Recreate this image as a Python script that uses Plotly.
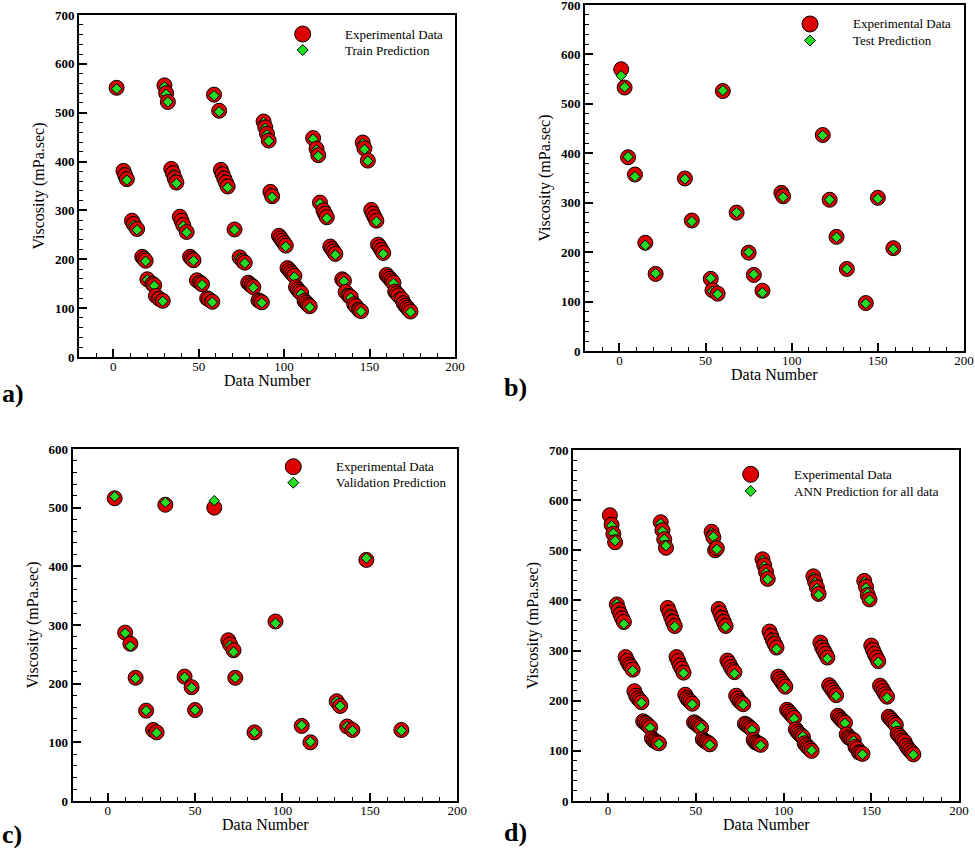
import plotly.graph_objects as go

# ---------------- data ----------------
train_x = [2, 6, 7, 8, 11, 12, 14, 17, 18, 19, 20, 23, 24, 25, 27, 29,
           30, 31, 32, 34, 35, 36, 37, 39, 40, 41, 43, 45, 46, 47, 49, 51, 52, 55, 56, 58,
           59, 62, 63, 64, 65, 66, 67, 71, 74, 76, 77, 79, 80, 81, 82, 85, 86, 87,
           88, 89, 90, 91, 92, 93, 97, 98, 99, 100, 101, 102, 103, 104, 105, 106, 107, 108, 109, 110,
           112, 113, 114, 115,
           117, 119, 120, 121, 123, 124, 125, 127, 128, 129, 130, 134, 135, 136, 138, 139, 141, 142, 144, 145,
           146, 147, 149, 151, 152, 153, 154, 155, 156, 157, 158, 160, 161, 162, 163, 164, 165, 166, 167,
           169, 170, 171, 172, 173, 174]
train_exp = [551, 381, 372, 364, 279, 272, 262, 205, 201, 197, 159, 150, 147, 125, 119, 115,
             556, 540, 522, 385, 376, 366, 357, 287, 279, 270, 256, 205, 201, 198, 157, 152, 149, 120, 118, 113,
             537, 504, 383, 374, 365, 357, 349, 261, 204, 196, 193, 152, 149, 146, 143, 116, 114, 112,
             482, 470, 457, 443, 338, 329, 248, 243, 238, 233, 228, 182, 178, 174, 170, 166, 143, 138, 134, 131,
             115, 111, 107, 104,
             448, 426, 413, 316, 300, 293, 286, 226, 221, 216, 211, 159, 156, 133, 125, 123, 108, 104, 96, 94,
             439, 427, 402, 301, 293, 286, 279, 230, 225, 219, 213, 168, 164, 160, 156, 152, 134, 130, 126,
             118, 110, 105, 101, 97, 93]
train_pred = [549, 379, 370, 362, 277, 270, 260, 203, 200, 196, 158, 150, 146, 123, 118, 114,
              553, 538, 522, 382, 374, 365, 355, 284, 276, 268, 255, 203, 200, 197, 156, 151, 148, 119, 117, 112,
              535, 502, 381, 372, 364, 355, 347, 260, 203, 195, 192, 151, 148, 145, 142, 115, 113, 111,
              480, 468, 455, 442, 336, 327, 246, 241, 236, 231, 226, 180, 176, 172, 168, 164, 141, 137, 132, 129,
              113, 109, 105, 102,
              446, 424, 411, 314, 298, 291, 284, 224, 219, 214, 209, 158, 155, 131, 124, 121, 106, 102, 95, 93,
              437, 425, 401, 299, 291, 284, 277, 228, 223, 217, 211, 166, 162, 158, 154, 151, 132, 128, 124,
              116, 108, 103, 99, 95, 92]

test_x = [1, 3, 5, 9, 15, 21, 38, 42, 53, 54, 57, 60, 68, 75, 78, 83, 94, 95, 118, 122, 126, 132, 143, 150, 159]
test_exp = [570, 533, 392, 357, 219, 156, 349, 264, 146, 123, 116, 526, 280, 199, 154, 122, 320, 313, 437, 306,
            231, 166, 97, 310, 208]
test_pred = [557, 534, 393, 353, 214, 157, 348, 262, 147, 121, 115, 527, 280, 200, 155, 118, 321, 311, 436, 306,
             230, 166, 96, 308, 206]

val_x = [4, 10, 13, 16, 22, 26, 28, 33, 44, 48, 50, 61, 69, 70, 72, 73, 84, 96, 111, 116, 131, 133, 137, 140, 148, 168]
val_exp = [516, 287, 268, 210, 154, 121, 117, 505, 212, 194, 155, 500, 274, 267, 257, 210, 117, 306, 128, 100,
           170, 162, 127, 121, 411, 121]
val_pred = [519, 286, 264, 209, 154, 119, 116, 509, 211, 193, 155, 512, 271, 265, 254, 210, 117, 303, 129, 101,
            170, 162, 127, 120, 414, 120]

panel_labels = ["a)", "b)", "c)", "d)"]
exp_name = "Experimental Data"
pred_names = ["Train Prediction", "Test Prediction", "Validation Prediction", "ANN Prediction for all data"]
x_title = "Data Number"
y_title = "Viscosity (mPa.sec)"

# all data for panel d
all_rows = sorted(zip(train_x + test_x + val_x, train_exp + test_exp + val_exp, train_pred + test_pred + val_pred))
all_x = [r[0] for r in all_rows]
all_exp = [r[1] for r in all_rows]
all_pred = [r[2] for r in all_rows]

# ---------------- style ----------------
FONT = "Liberation Serif, Times New Roman, serif"
RED = "#dd0000"
GREEN = "#22dd22"
CIRCLE_SIZE = 15
DIAMOND_SIZE = 8
W, H = 975, 848


def px_x(p):
    return p / W


def px_y(p):
    return 1 - p / H


def interleaved(xs, exp, pred):
    X, Y, S, C, Z = [], [], [], [], []
    for x, e, p in zip(xs, exp, pred):
        X += [x, x]
        Y += [e, p]
        S += ["circle", "diamond"]
        C += [RED, GREEN]
        Z += [CIRCLE_SIZE, DIAMOND_SIZE]
    return X, Y, S, C, Z


panels = [
    dict(data=(train_x, train_exp, train_pred), xd=(79, 455), yd=(15, 357), ymax=700,
         leg=(302.7, 34, 50, 342.7)),
    dict(data=(test_x, test_exp, test_pred), xd=(585, 964), yd=(5, 351), ymax=700,
         leg=(810, 24, 40.5, 850.7)),
    dict(data=(val_x, val_exp, val_pred), xd=(72.7, 457.3), yd=(449, 801), ymax=600,
         leg=(293.3, 466.7, 482.7, 334)),
    dict(data=(all_x, all_exp, all_pred), xd=(573, 959), yd=(450, 801), ymax=700,
         leg=(750.7, 474.3, 491, 792.3)),
]
label_pos = [(0, 394), (502, 387), (0, 834), (502, 832)]

fig = go.Figure()
layout = dict(width=W, height=H, margin=dict(l=0, r=0, t=0, b=0), template="none",
              paper_bgcolor="white", plot_bgcolor="white", showlegend=False,
              font=dict(family=FONT, color="black"))
annotations = []
shapes = []

for i, p in enumerate(panels):
    k = "" if i == 0 else str(i + 1)
    xa, ya = "x" + k, "y" + k
    X, Y, S, C, Z = interleaved(*p["data"])
    fig.add_trace(go.Scatter(x=X, y=Y, mode="markers", xaxis=xa, yaxis=ya, showlegend=False,
                             marker=dict(symbol=S, color=C, size=Z, opacity=1,
                                         line=dict(color="black", width=1))))
    layout["xaxis" + k] = dict(
        domain=[px_x(p["xd"][0]), px_x(p["xd"][1])], anchor=ya, range=[-20, 200],
        tick0=0, dtick=50, ticks="inside", ticklen=8, tickwidth=1.5, tickcolor="black",
        showline=True, linewidth=2, linecolor="black", mirror=True, showgrid=False, zeroline=False,
        automargin=False, ticklabelstandoff=-4, ticklabeloverflow="allow",
        tickfont=dict(family=FONT, size=13, color="black"),
        minor=dict(dtick=10, tick0=0, ticks="inside", ticklen=4, tickwidth=1, tickcolor="black", showgrid=False))
    layout["yaxis" + k] = dict(
        domain=[px_y(p["yd"][1]), px_y(p["yd"][0])], anchor=xa, range=[0, p["ymax"] + 0.01],
        tick0=0, dtick=100, ticks="inside", ticklen=8, tickwidth=1.5, tickcolor="black",
        showline=True, linewidth=2, linecolor="black", mirror=True, showgrid=False, zeroline=False,
        automargin=False, ticklabeloverflow="allow",
        tickfont=dict(family=FONT, size=13, color="black", weight="bold"),
        minor=dict(dtick=20, tick0=0, ticks="inside", ticklen=4, tickwidth=1, tickcolor="black", showgrid=False),
        title=dict(text=y_title, font=dict(family=FONT, size=16, color="black"), standoff=6))

    # x-axis title placed just under the tick labels
    annotations.append(dict(text=x_title, xref="paper", yref="paper",
                            x=px_x((p["xd"][0] + p["xd"][1]) / 2), y=px_y(p["yd"][1] + 23),
                            xanchor="center", yanchor="middle", showarrow=False,
                            font=dict(family=FONT, size=16, color="black")))

    # legend drawn as shapes + text (pixel-sized symbols)
    cx, cy1, cy2, tx = p["leg"]
    shapes.append(dict(type="circle", xref="paper", yref="paper", xsizemode="pixel", ysizemode="pixel",
                       xanchor=px_x(cx), yanchor=px_y(cy1), x0=-8, x1=8, y0=-8, y1=8,
                       fillcolor=RED, line=dict(color="black", width=1), layer="above"))
    shapes.append(dict(type="path", xref="paper", yref="paper", xsizemode="pixel", ysizemode="pixel",
                       xanchor=px_x(cx), yanchor=px_y(cy2), path="M 0 5.5 L 5.5 0 L 0 -5.5 L -5.5 0 Z",
                       fillcolor=GREEN, line=dict(color="black", width=1), layer="above"))
    for txt, ty in ((exp_name, cy1), (pred_names[i], cy2)):
        annotations.append(dict(text=txt, xref="paper", yref="paper", x=px_x(tx), y=px_y(ty),
                                xanchor="left", yanchor="middle", showarrow=False,
                                font=dict(family=FONT, size=13, color="black")))
    annotations.append(dict(text="<b>" + panel_labels[i] + "</b>", xref="paper", yref="paper",
                            x=px_x(label_pos[i][0]), y=px_y(label_pos[i][1]), xanchor="left", yanchor="middle",
                            showarrow=False, font=dict(family=FONT, size=26, color="black")))

layout["annotations"] = annotations
layout["shapes"] = shapes
fig.update_layout(**layout)
fig.write_html("out.html", config={"displayModeBar": False},
               post_script="document.body.style.margin='0px';")
